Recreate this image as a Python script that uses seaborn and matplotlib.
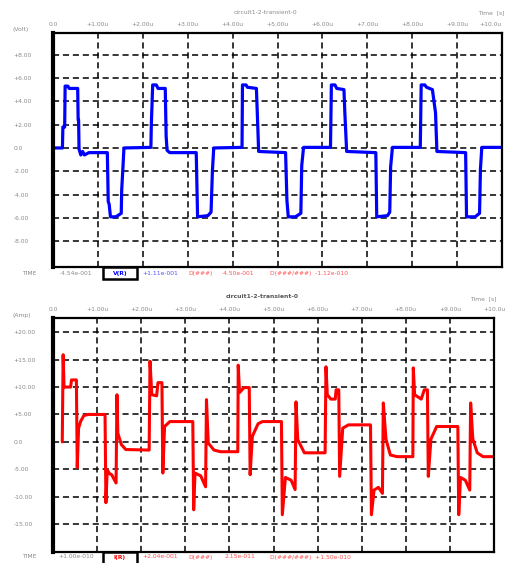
import matplotlib
matplotlib.use("Agg")
import matplotlib.pyplot as plt
import seaborn as sns
from matplotlib.patches import Rectangle

# waveform breakpoints (time in us grid units)
volt_t = [0.0, 0.21, 0.22, 0.26, 0.27, 0.33, 0.36, 0.55, 0.56, 0.57, 0.58, 0.62, 0.66, 0.70, 0.80,
          1.21, 1.23, 1.25, 1.28, 1.40, 1.52, 1.53, 1.56, 1.58, 2.18,
          2.19, 2.22, 2.30, 2.34, 2.50, 2.52, 2.54, 2.60, 3.19, 3.22, 3.45, 3.52, 3.55, 3.58, 4.21,
          4.22, 4.30, 4.33, 4.53, 4.55, 4.58, 5.18, 5.21, 5.24, 5.40, 5.52, 5.54, 5.58, 6.18,
          6.20, 6.28, 6.32, 6.48, 6.50, 6.54, 7.19, 7.21, 7.45, 7.50, 7.52, 7.56, 8.18,
          8.20, 8.28, 8.32, 8.45, 8.52, 8.55, 9.19, 9.21, 9.40, 9.50, 9.52, 9.55, 10.0]
volt_v = [0.0, 0.0, 1.8, 1.8, 5.3, 5.3, 5.1, 5.1, 2.4, 2.4, -0.1, -0.6, -0.3, -0.6, -0.4,
          -0.4, -4.6, -4.8, -5.9, -5.9, -5.6, -3.6, -1.5, 0.0, 0.05,
          2.0, 5.4, 5.4, 5.1, 5.1, 1.0, -0.2, -0.4, -0.4, -5.9, -5.8, -5.5, -2.0, 0.0, 0.05,
          5.4, 5.4, 5.2, 5.1, 3.0, -0.3, -0.4, -4.5, -5.9, -5.9, -5.6, -1.5, 0.05, 0.05,
          5.4, 5.4, 5.1, 5.0, 3.0, -0.3, -0.4, -5.9, -5.8, -5.5, -1.6, 0.05, 0.05,
          5.4, 5.4, 5.2, 5.0, 3.0, -0.3, -0.4, -5.9, -5.9, -5.6, -1.8, 0.05, 0.05]

amp_t = [0.21, 0.23, 0.25, 0.40, 0.42, 0.53, 0.55, 0.58, 0.63, 0.70, 0.80, 1.18, 1.20, 1.23, 1.28,
         1.33, 1.43, 1.45, 1.47, 1.55, 1.65, 2.18,
         2.20, 2.24, 2.35, 2.38, 2.47, 2.49, 2.53, 2.65, 3.17, 3.19, 3.22, 3.35, 3.46, 3.48, 3.52,
         3.65, 3.80, 4.19,
         4.20, 4.23, 4.33, 4.45, 4.47, 4.52, 4.65, 4.75, 5.18, 5.20, 5.27, 5.40, 5.49, 5.51, 5.55,
         5.70, 6.17,
         6.19, 6.22, 6.30, 6.40, 6.42, 6.48, 6.50, 6.57, 6.70, 7.20, 7.22, 7.28, 7.38, 7.47, 7.49,
         7.55, 7.65, 7.80, 8.16,
         8.17, 8.20, 8.35, 8.42, 8.49, 8.51, 8.57, 8.70, 9.18, 9.20, 9.24, 9.35, 9.45, 9.47, 9.52,
         9.62, 9.75, 9.98]
amp_v = [0.0, 15.9, 10.0, 10.0, 11.3, 11.3, -4.7, 2.5, 3.8, 4.8, 5.0, 5.0, -11.1, -5.1, -5.8,
         -6.0, -7.5, 8.6, 1.6, -0.5, -1.4, -1.5,
         14.7, 8.6, 8.4, 10.8, 10.8, -5.7, 2.8, 3.7, 3.7, -12.4, -5.7, -6.2, -8.2, 7.7, -0.2,
         -1.5, -1.8, -1.8,
         14.0, 9.0, 9.9, 9.9, -6.0, 1.0, 3.3, 3.7, 3.7, -13.3, -6.5, -7.0, -8.7, 7.3, 0.4,
         -2.0, -2.0,
         13.7, 8.6, 7.8, 7.8, 9.5, 9.5, -6.3, 2.5, 3.1, 3.1, -13.3, -8.8, -8.3, -9.4, 7.1,
         0.5, -2.4, -2.7, -2.7,
         13.5, 8.6, 7.8, 9.5, 9.5, -6.3, 0.5, 2.8, 2.8, -13.3, -6.5, -7.0, -8.8, 7.1, 0.5,
         -2.0, -2.7, -2.7]

time_ticks = [0, 1, 2, 3, 4, 5, 6, 7, 8, 9, 10]
time_labels = ["0.0", "+1.00u", "+2.00u", "+3.00u", "+4.00u", "+5.00u",
               "+6.00u", "+7.00u", "+8.00u", "+9.00u", "+10.0u"]
volt_ticks = [8, 6, 4, 2, 0, -2, -4, -6, -8]
volt_labels = ["+8.00", "+6.00", "+4.00", "+2.00", "0.0", "-2.00", "-4.00", "-6.00", "-8.00"]
amp_ticks = [20, 15, 10, 5, 0, -5, -10, -15]
amp_labels = ["+20.00", "+15.00", "+10.00", "+5.00", "0.0", "-5.00", "-10.00", "-15.00"]

sns.set_style("white")
plt.rcParams['font.family'] = ['DejaVu Sans']

W, H = 510, 563
gray = '#8a8a8a'
fs = 4.3

fig = plt.figure(figsize=(W / 100, H / 100), dpi=100)
ax1 = fig.add_axes([53 / W, 1 - 267 / H, 449 / W, 234 / H])
ax2 = fig.add_axes([53 / W, 1 - 552 / H, 441 / W, 234 / H])


def style_axis(ax, ylim, yticks, ylabels):
    ax.set_xlim(0, 10)
    ax.set_ylim(*ylim)
    ax.set_xticks(time_ticks)
    ax.set_xticklabels(time_labels)
    ax.set_yticks(yticks)
    ax.set_yticklabels(ylabels, ha='left')
    ax.tick_params(axis='x', top=True, labeltop=True, bottom=False, labelbottom=False,
                   length=0, pad=4.5, labelsize=fs, labelcolor=gray)
    ax.tick_params(axis='y', length=0, pad=28.5, labelsize=fs, labelcolor=gray)
    ax.grid(True, color='black', linestyle=(0, (4, 2.5)), linewidth=1.1)
    ax.set_axisbelow(True)
    ax.set_xlabel('')
    ax.set_ylabel('')
    for side in ['top', 'right', 'bottom']:
        ax.spines[side].set_linewidth(1.6)
        ax.spines[side].set_color('black')
    ax.spines['left'].set_linewidth(3.0)
    ax.spines['left'].set_color('black')


sns.lineplot(x=volt_t, y=volt_v, ax=ax1, color='#0000ff', linewidth=2.3,
             sort=False, estimator=None)
style_axis(ax1, (-10.2, 9.85), volt_ticks, volt_labels)
ax1.get_xticklabels()[-1].set_ha('right')

sns.lineplot(x=amp_t, y=amp_v, ax=ax2, color='#ff0000', linewidth=2.2,
             sort=False, estimator=None)
style_axis(ax2, (-20.1, 22.6), amp_ticks, amp_labels)


def px(x, y):
    return x / W, 1 - y / H


# headers
fig.text(*px(265, 12), "circuit1-2-transient-0", fontsize=fs, color=gray, ha='center', va='center')
fig.text(*px(505, 13), "Time  [s]", fontsize=fs, color=gray, ha='right', va='center')
fig.text(*px(13, 30), "(Volt)", fontsize=fs, color=gray, ha='left', va='center')

fig.text(*px(262, 297), "circuit1-2-transient-0", fontsize=fs, color='#555555',
         ha='center', va='center', fontweight='bold')
fig.text(*px(497, 299), "Time  [s]", fontsize=fs, color=gray, ha='right', va='center')
fig.text(*px(13, 315), "(Amp)", fontsize=fs, color=gray, ha='left', va='center')


def trace_box(y_top, label, color):
    x0, y0 = px(103, y_top + 12)
    fig.patches.append(Rectangle((x0, y0), 34 / W, 12 / H, transform=fig.transFigure,
                                 facecolor='white', edgecolor='black', linewidth=1.8,
                                 zorder=5))
    fig.text(*px(120, y_top + 6), label, fontsize=fs, color=color, ha='center',
             va='center', fontweight='bold', zorder=6)


# cursor rows
fig.text(*px(22, 273), "TIME", fontsize=fs, color=gray, va='center')
fig.text(*px(60, 273), "-4.54e-001", fontsize=fs, color=gray, va='center')
trace_box(267, "V(R)", '#0000ff')
fig.text(*px(142, 273), "+1.11e-001", fontsize=fs, color='#5050ff', va='center')
fig.text(*px(188, 273), "D(###)", fontsize=fs, color='#ff5050', va='center')
fig.text(*px(222, 273), "-4.50e-001", fontsize=fs, color='#ff5050', va='center')
fig.text(*px(270, 273), "D(###/###)  -1.12e-010", fontsize=fs, color='#ff5050', va='center')

fig.text(*px(22, 557), "TIME", fontsize=fs, color=gray, va='center')
fig.text(*px(58, 557), "+1.00e-010", fontsize=fs, color=gray, va='center')
trace_box(552, "I(R)", '#ff0000')
fig.text(*px(142, 557), "+2.04e-001", fontsize=fs, color='#ff5050', va='center')
fig.text(*px(188, 557), "D(###)", fontsize=fs, color='#ff5050', va='center')
fig.text(*px(225, 557), "2.15e-011", fontsize=fs, color='#ff5050', va='center')
fig.text(*px(270, 557), "D(###/###)  +1.50e-010", fontsize=fs, color='#ff5050', va='center')

fig.savefig("out.png", dpi=100)
